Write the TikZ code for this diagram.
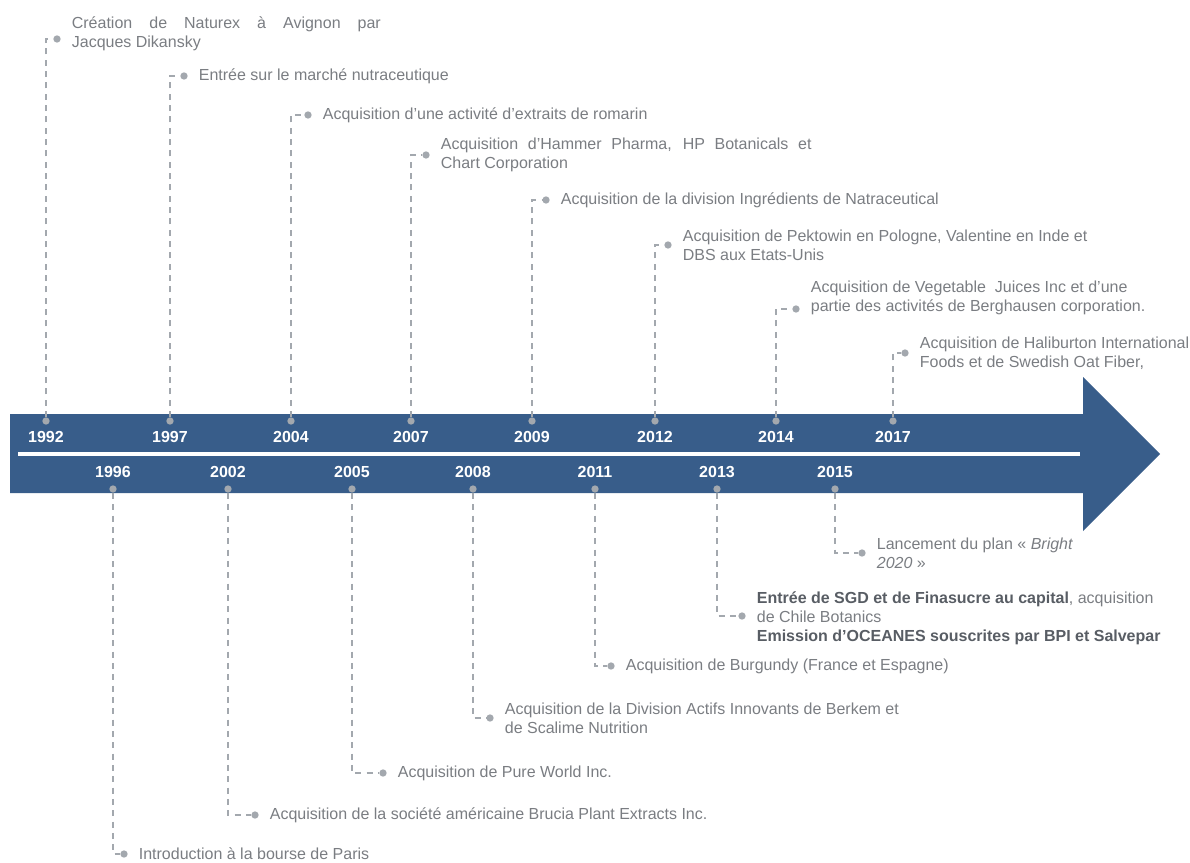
\documentclass[tikz,border=0pt]{standalone}
\usepackage{fontspec}
\setmainfont{Liberation Sans}
\usetikzlibrary{positioning}

\definecolor{bandblue}{RGB}{56,93,138}
\definecolor{dotgray}{RGB}{163,168,174}
\definecolor{txtgray}{RGB}{122,125,130}
\definecolor{boldgray}{RGB}{88,93,100}

\tikzset{
  yeardot/.style={circle, fill=dotgray, inner sep=0pt, minimum size=5.5pt},
  evdot/.style={circle, fill=dotgray, inner sep=0pt, minimum size=5.5pt},
  leader/.style={dotgray, line width=1.1pt, dash pattern=on 4.5pt off 4pt},
  year/.style={text=white, inner sep=0pt, font=\bfseries\fontsize{12}{14}\selectfont},
  event/.style={text=txtgray, inner sep=0pt, align=left, anchor=west, font=\fontsize{12}{14.25}\selectfont},
}

\begin{document}
\begin{tikzpicture}[x=0.75pt, y=-0.75pt]
\useasboundingbox (0,0) rectangle (1190,863);

% the arrow
\fill[bandblue] (10,414) -- (1083,414) -- (1083,377) -- (1160,454) -- (1083,531) -- (1083,493) -- (10,493) -- cycle;
\draw[white, line width=3pt] (18,454) -- (1080,454);

% years on top of the line
\foreach \yr/\x in {1992/46, 1997/170, 2004/291, 2007/411, 2009/532, 2012/655, 2014/776, 2017/893} {
  \node[yeardot] (d\yr) at (\x,421) {};
  \node[year] (y\yr) at (\x,437) {\yr};
}
% years below the line
\foreach \yr/\x in {1996/113, 2002/228, 2005/352, 2008/473, 2011/595, 2013/717, 2015/835} {
  \node[yeardot] (d\yr) at (\x,489) {};
  \node[year] (y\yr) at (\x,472) {\yr};
}

% events above
\node[evdot] (e1992) at (57,39) {};
\node[evdot] (e1997) at (184,76) {};
\node[evdot] (e2004) at (308,115) {};
\node[evdot] (e2007) at (426,155) {};
\node[evdot] (e2009) at (546,200) {};
\node[evdot] (e2012) at (668,245) {};
\node[evdot] (e2014) at (796,309) {};
\node[evdot] (e2017) at (905,353) {};

% events below
\node[evdot] (e1996) at (124,854) {};
\node[evdot] (e2002) at (255,815) {};
\node[evdot] (e2005) at (383,773) {};
\node[evdot] (e2008) at (490,718) {};
\node[evdot] (e2011) at (611,666) {};
\node[evdot] (e2013) at (742,616) {};
\node[evdot] (e2015) at (862,553) {};

\foreach \yr in {1992,1997,2004,2007,2009,2012,2014,2017,1996,2002,2005,2008,2011,2013,2015}
  \draw[leader] (d\yr) |- (e\yr);

% texts
\node[event, right=8pt of e1992, yshift=4pt] (t1992) {\makebox[231.75pt][s]{Création de Naturex à Avignon par}\\Jacques Dikansky};
\node[event, right=8pt of e1997] (t1997) {Entrée sur le marché nutraceutique};
\node[event, right=8pt of e2004] (t2004) {Acquisition d’une activité d’extraits de romarin};
\node[event, right=8pt of e2007] (t2007) {\makebox[278pt][s]{Acquisition d’Hammer Pharma, HP Botanicals et}\\Chart Corporation};
\node[event, right=8pt of e2009] (t2009) {Acquisition de la division Ingrédients de Natraceutical};
\node[event, right=8pt of e2012] (t2012) {Acquisition de Pektowin en Pologne, Valentine en Inde et\\DBS aux Etats-Unis};
\node[event, right=8pt of e2014, yshift=8pt] (t2014) {Acquisition de Vegetable \ Juices Inc et d’une\\partie des activités de Berghausen corporation.};
\node[event, right=8pt of e2017] (t2017) {\makebox[202pt][s]{Acquisition de Haliburton International}\\Foods et de Swedish Oat Fiber,};

\node[event, right=8pt of e1996] (t1996) {Introduction à la bourse de Paris};
\node[event, right=8pt of e2002] (t2002) {Acquisition de la société américaine Brucia Plant Extracts Inc.};
\node[event, right=8pt of e2005] (t2005) {Acquisition de Pure World Inc.};
\node[event, right=8pt of e2008] (t2008) {Acquisition de la Division Actifs Innovants de Berkem et\\de Scalime Nutrition};
\node[event, right=8pt of e2011] (t2011) {Acquisition de Burgundy (France et Espagne)};
\node[event, right=8pt of e2013, yshift=-2pt] (t2013) {{\color{boldgray}\bfseries Entrée de SGD et de Finasucre au capital}, acquisition\\de Chile Botanics\\{\color{boldgray}\bfseries Emission d’OCEANES souscrites par BPI et Salvepar}};
\node[event, right=8pt of e2015] (t2015) {Lancement du plan «~\textit{Bright}\\\textit{2020}~»};

\end{tikzpicture}
\end{document}
